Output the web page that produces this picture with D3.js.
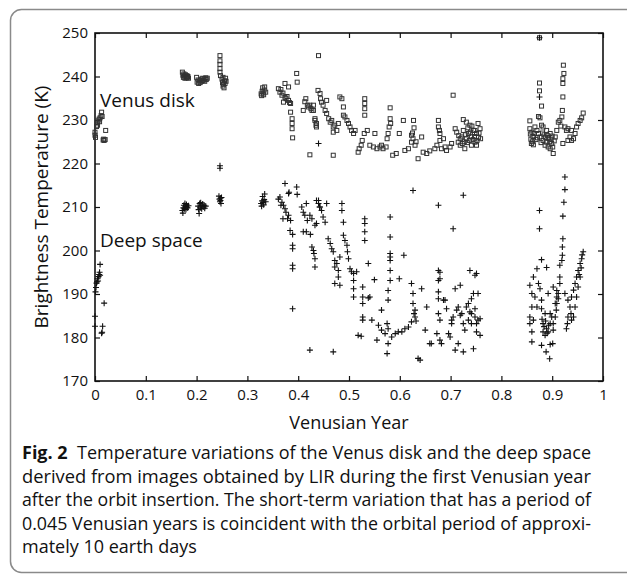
<!DOCTYPE html>
<html>
<head>
<meta charset="utf-8">
<script src="https://cdn.jsdelivr.net/npm/d3@7"></script>
<style>
  body { margin: 0; background: #fff; }
  svg { display: block; }
  text { font-family: "Open Sans", "Noto Sans", sans-serif; fill: #111; }
</style>
</head>
<body>
<div id="chart"></div>
<script>
// Venus disk brightness temperature [Venusian year, K]
const venusDisk = [
  [0.000,226.5],[0.000,227.2],[0.001,226.0],[0.003,228.5],[0.004,229.3],[0.005,228.8],[0.006,229.8],[0.008,230.2],[0.009,229.6],
  [0.010,230.5],[0.012,231.0],[0.013,231.8],[0.014,230.8],[0.016,225.4],[0.017,225.6],[0.018,225.3],[0.020,225.5],[0.021,227.6],
  [0.172,241.0],[0.173,240.3],[0.174,239.8],[0.175,240.6],[0.176,240.1],[0.177,239.6],[0.178,240.4],[0.179,240.0],[0.180,239.7],
  [0.181,240.2],[0.182,239.8],[0.183,240.0],[0.184,239.6],
  [0.200,239.8],[0.201,238.7],[0.203,239.2],[0.204,238.4],[0.206,239.0],[0.207,238.6],[0.209,239.4],[0.210,238.9],[0.212,239.6],
  [0.213,239.1],[0.215,239.5],[0.216,238.9],[0.218,239.7],[0.219,239.3],[0.221,239.6],
  [0.246,244.8],[0.246,243.6],[0.246,242.8],[0.246,241.8],[0.246,241.0],[0.247,240.2],[0.250,239.4],[0.251,238.6],[0.252,237.8],
  [0.252,239.8],[0.253,238.2],[0.254,237.4],[0.255,239.0],[0.256,238.4],[0.257,239.6],[0.258,238.9],
  [0.327,236.0],[0.328,235.6],[0.329,236.6],[0.330,237.4],[0.331,236.2],[0.332,235.8],[0.333,236.9],[0.334,237.6],[0.336,236.4],
  [0.361,237.2],[0.364,236.4],[0.366,237.0],[0.368,235.7],[0.370,236.2],[0.371,234.1],[0.374,238.4],[0.374,235.2],[0.376,234.9],
  [0.378,235.4],[0.381,237.6],[0.381,234.5],[0.383,234.0],[0.385,233.8],[0.385,231.8],[0.388,230.3],[0.388,229.2],[0.388,228.0],
  [0.389,225.9],[0.397,240.7],[0.398,238.7],[0.410,232.2],[0.413,234.2],[0.415,234.9],[0.418,233.4],[0.420,233.0],[0.423,233.4],
  [0.423,222.0],[0.425,232.6],[0.427,232.2],[0.430,233.4],[0.430,232.2],[0.433,230.3],[0.433,229.9],[0.435,228.8],[0.436,228.4],
  [0.436,229.2],[0.439,236.8],[0.440,244.8],[0.443,236.1],[0.444,234.9],[0.446,234.1],[0.449,233.4],[0.453,232.2],[0.456,231.5],
  [0.456,234.5],[0.460,230.3],[0.463,229.5],[0.466,229.9],[0.469,228.4],[0.469,227.2],[0.469,221.9],[0.472,228.8],[0.476,227.6],
  [0.479,229.2],[0.482,235.3],[0.486,234.9],[0.489,233.0],[0.489,231.1],[0.492,230.7],[0.496,229.9],[0.499,229.2],[0.502,228.4],
  [0.505,227.6],[0.509,226.9],[0.512,227.6],[0.518,222.6],[0.520,223.4],[0.524,224.2],[0.526,225.3],[0.530,226.9],[0.531,234.9],
  [0.531,233.8],[0.531,232.6],[0.531,231.1],[0.536,227.6],[0.541,224.2],[0.548,223.8],[0.551,226.9],[0.555,223.4],[0.561,223.8],
  [0.564,224.2],[0.567,223.4],[0.573,223.8],[0.575,225.7],[0.577,226.9],[0.579,228.4],[0.581,230.3],[0.581,232.8],[0.582,229.2],
  [0.586,221.9],[0.593,222.3],[0.599,226.9],[0.607,229.9],[0.610,223.0],[0.617,223.4],[0.623,224.9],[0.623,226.5],[0.626,225.7],
  [0.627,229.9],[0.628,228.2],[0.630,224.2],[0.625,227.0],[0.632,225.0],[0.636,221.1],[0.643,226.1],[0.646,222.6],[0.653,222.3],
  [0.659,222.9],[0.669,223.4],[0.673,224.2],[0.676,229.9],[0.676,228.4],[0.678,227.6],[0.679,226.9],[0.679,225.3],[0.682,223.4],
  [0.686,225.7],[0.689,223.8],[0.692,223.0],[0.699,223.8],[0.702,224.6],[0.705,235.7],[0.709,228.0],[0.712,227.2],[0.715,224.9],
  [0.719,225.7],[0.719,224.2],[0.722,226.1],[0.725,230.1],[0.725,227.6],[0.728,223.4],[0.731,229.5],[0.731,225.7],[0.735,226.9],
  [0.737,225.3],[0.738,228.8],[0.741,226.1],[0.741,224.2],[0.745,227.6],[0.748,224.9],[0.748,227.6],[0.751,226.9],[0.751,224.2],
  [0.754,229.2],[0.755,226.0],[0.758,228.0],[0.759,225.7],[0.733,224.8],[0.744,225.5],[0.727,225.0],[0.752,225.3],
  [0.716,226.4],[0.723,224.6],[0.729,226.6],[0.739,227.2],[0.747,226.2],[0.756,227.0],[0.734,228.2],[0.742,228.6],
  [0.856,229.8],[0.856,228.0],[0.857,226.8],[0.858,225.6],[0.859,224.6],[0.860,227.2],[0.861,225.0],[0.862,226.2],[0.863,224.3],
  [0.866,228.4],[0.870,227.6],[0.873,226.9],[0.873,230.8],[0.875,248.9],[0.875,238.5],[0.875,236.7],[0.876,230.5],[0.876,226.1],
  [0.879,233.2],[0.879,228.8],[0.882,228.4],[0.882,225.3],[0.884,226.6],[0.886,224.2],[0.889,227.6],[0.889,224.9],[0.892,223.8],
  [0.893,225.8],[0.896,226.9],[0.896,223.4],[0.899,224.6],[0.901,223.8],[0.902,222.3],[0.904,225.2],[0.906,226.1],[0.909,227.6],
  [0.912,229.5],[0.915,229.9],[0.917,228.6],[0.919,230.7],[0.920,232.2],[0.921,235.3],[0.921,238.4],[0.921,239.5],[0.921,224.6],
  [0.922,242.6],[0.923,240.7],[0.925,228.4],[0.928,227.6],[0.931,228.0],[0.931,225.3],[0.935,226.1],[0.938,227.6],[0.938,225.3],
  [0.942,225.7],[0.945,226.9],[0.948,228.4],[0.951,229.2],[0.955,229.9],[0.958,230.5],[0.961,231.6],[0.868,225.5],[0.878,224.8],
  [0.887,226.0],[0.895,225.0],[0.900,226.3],[0.864,226.9],[0.871,225.9],[0.881,227.0],[0.891,226.4],[0.898,225.6]
];

// deep space brightness temperature [Venusian year, K]
const deepSpace = [
  [0.000,184.9],[0.000,182.6],[0.001,190.5],[0.002,191.5],[0.003,192.5],[0.004,192.8],[0.005,193.5],[0.006,193.0],[0.007,194.0],
  [0.008,194.5],[0.009,195.0],[0.010,194.3],[0.010,196.8],[0.014,181.2],[0.015,182.6],[0.013,181.0],[0.018,187.9],
  [0.172,209.2],[0.173,208.6],[0.174,209.8],[0.175,210.4],[0.176,209.6],[0.177,210.8],[0.178,210.1],[0.179,209.4],[0.180,210.6],
  [0.181,210.0],[0.182,209.8],[0.184,210.3],
  [0.203,210.2],[0.204,209.4],[0.205,208.5],[0.206,210.8],[0.207,209.8],[0.208,211.0],[0.209,210.3],[0.210,209.6],[0.212,210.7],
  [0.213,210.0],[0.215,210.4],[0.216,209.7],[0.218,210.2],
  [0.246,219.5],[0.246,218.9],[0.244,212.5],[0.245,211.8],[0.246,211.2],[0.247,212.0],[0.248,210.8],[0.247,211.5],[0.249,212.2],
  [0.327,210.8],[0.328,210.2],[0.329,211.4],[0.330,212.4],[0.331,211.0],[0.332,210.5],[0.333,211.7],[0.334,213.0],[0.336,211.2],
  [0.361,211.8],[0.364,212.3],[0.366,210.4],[0.368,211.1],[0.370,207.3],[0.371,210.4],[0.374,215.4],[0.374,209.6],[0.376,208.8],
  [0.379,207.3],[0.381,213.1],[0.381,208.1],[0.382,213.4],[0.384,204.6],[0.385,206.9],[0.389,203.7],[0.389,201.2],[0.389,200.4],
  [0.389,196.6],[0.389,195.8],[0.389,186.6],[0.397,214.6],[0.398,212.9],[0.407,210.0],[0.410,208.8],[0.410,204.3],[0.413,208.1],
  [0.416,210.8],[0.416,204.3],[0.418,206.9],[0.423,208.1],[0.423,177.1],[0.424,203.7],[0.427,207.3],[0.427,200.8],[0.430,200.0],
  [0.431,199.3],[0.433,198.1],[0.433,205.8],[0.433,196.2],[0.436,206.2],[0.436,211.5],[0.440,211.5],[0.440,210.8],[0.440,224.6],
  [0.442,210.0],[0.443,210.0],[0.446,209.2],[0.449,207.7],[0.453,206.5],[0.456,210.8],[0.459,202.7],[0.463,201.6],[0.466,200.4],
  [0.469,199.7],[0.469,176.7],[0.472,197.7],[0.472,196.2],[0.472,192.4],[0.476,197.0],[0.479,195.4],[0.479,193.9],[0.482,192.0],
  [0.482,198.5],[0.486,210.8],[0.486,209.2],[0.489,206.5],[0.489,203.5],[0.492,202.3],[0.496,201.2],[0.497,199.7],[0.499,198.1],
  [0.502,195.8],[0.505,195.1],[0.509,194.7],[0.509,193.1],[0.509,191.2],[0.509,189.3],[0.515,195.1],[0.518,180.5],[0.524,180.3],
  [0.527,191.6],[0.527,189.3],[0.527,187.8],[0.527,184.7],[0.527,184.0],[0.531,207.3],[0.531,206.2],[0.531,204.3],[0.531,202.3],
  [0.538,197.0],[0.538,189.1],[0.541,189.3],[0.545,184.0],[0.550,193.3],[0.555,179.4],[0.558,182.8],[0.564,186.3],[0.564,181.7],
  [0.571,180.9],[0.575,183.2],[0.575,176.3],[0.577,182.0],[0.577,178.6],[0.577,188.6],[0.577,190.8],[0.581,193.1],[0.581,195.4],
  [0.581,197.7],[0.581,198.5],[0.581,199.3],[0.581,203.1],[0.581,207.7],[0.584,180.1],[0.591,180.9],[0.597,181.3],[0.599,193.5],
  [0.604,181.3],[0.608,198.9],[0.610,182.0],[0.617,182.4],[0.623,183.6],[0.623,192.4],[0.626,190.1],[0.626,187.8],[0.626,213.8],
  [0.630,186.3],[0.630,184.7],[0.628,185.5],[0.632,183.8],[0.636,175.2],[0.640,174.8],[0.643,191.2],[0.650,181.7],[0.653,187.0],
  [0.659,178.6],[0.662,178.6],[0.673,180.9],[0.676,210.4],[0.676,195.4],[0.676,193.1],[0.676,190.5],[0.676,188.9],[0.676,185.5],
  [0.679,195.0],[0.679,193.5],[0.679,184.0],[0.679,179.4],[0.682,178.6],[0.686,188.6],[0.689,188.6],[0.692,186.6],[0.696,180.9],
  [0.699,180.1],[0.702,184.0],[0.702,183.2],[0.705,184.7],[0.705,205.0],[0.709,191.2],[0.709,177.1],[0.712,186.3],[0.715,187.0],
  [0.715,178.6],[0.719,192.0],[0.719,185.1],[0.722,185.5],[0.725,183.2],[0.725,176.7],[0.725,212.7],[0.728,181.7],[0.731,187.0],
  [0.735,187.8],[0.735,184.0],[0.738,185.9],[0.738,195.4],[0.741,188.9],[0.741,185.5],[0.741,183.2],[0.745,190.1],[0.745,177.4],
  [0.748,194.3],[0.748,186.6],[0.748,184.7],[0.751,194.7],[0.751,183.2],[0.751,181.3],[0.754,190.1],[0.754,184.0],[0.758,184.3],
  [0.758,180.5],
  [0.875,248.9],[0.875,235.3],[0.925,216.9],[0.925,214.0],[0.923,211.1],[0.921,207.9],[0.875,209.2],[0.875,205.0],[0.921,202.7],
  [0.920,200.8],[0.920,198.9],[0.919,197.7],[0.915,196.6],[0.915,193.9],[0.912,190.1],[0.909,189.3],[0.909,187.8],[0.908,186.3],
  [0.906,184.7],[0.902,183.2],[0.902,181.7],[0.901,178.6],[0.896,178.4],[0.895,175.1],[0.888,176.7],[0.879,178.2],[0.860,179.0],
  [0.879,197.9],[0.889,196.1],[0.870,195.8],[0.863,193.9],[0.873,192.4],[0.876,191.2],[0.856,192.0],[0.860,190.1],[0.866,189.3],
  [0.879,188.6],[0.892,190.1],[0.902,191.6],[0.860,187.0],[0.870,187.0],[0.879,186.6],[0.886,185.5],[0.896,185.5],[0.856,184.7],
  [0.863,184.0],[0.882,183.2],[0.889,182.0],[0.856,183.2],[0.860,181.3],[0.882,181.3],[0.886,180.5],[0.892,181.3],[0.896,183.2],
  [0.899,184.7],[0.906,187.8],[0.925,190.1],[0.931,188.6],[0.935,187.0],[0.931,184.7],[0.930,183.2],[0.928,182.0],[0.938,189.3],
  [0.942,190.9],[0.945,192.4],[0.948,193.9],[0.951,195.4],[0.955,197.0],[0.958,198.1],[0.961,199.7],[0.942,184.7],[0.937,185.5],
  [0.938,184.0],[0.945,187.0],[0.948,189.3],[0.951,191.6],[0.955,193.9],[0.915,192.4],[0.912,188.9],[0.909,190.8],[0.884,182.5],
  [0.887,183.8],[0.890,181.0],[0.893,182.8],[0.880,184.2],[0.957,196.0],[0.953,194.5],[0.959,199.0]
];

const xTicks = [0, 0.1, 0.2, 0.3, 0.4, 0.5, 0.6, 0.7, 0.8, 0.9, 1];
const yTicks = [170, 180, 190, 200, 210, 220, 230, 240, 250];

const captionLines = [
  "Temperature variations of the Venus disk and the deep space",
  "derived from images obtained by LIR during the first Venusian year",
  "after the orbit insertion. The short-term variation that has a period of",
  "0.045 Venusian years is coincident with the orbital period of approxi-",
  "mately 10 earth days"
];

const W = 627, H = 576;
const margin = { top: 33, right: 24, bottom: 195, left: 95 };
const width = W - margin.left - margin.right;
const height = H - margin.top - margin.bottom;

const svg = d3.select('#chart').append('svg')
  .attr('width', W)
  .attr('height', H);

// rounded figure frame (right/bottom run off the page)
svg.append('rect')
  .attr('x', 10.5).attr('y', 9.5)
  .attr('width', 700).attr('height', 563)
  .attr('rx', 11)
  .attr('fill', 'none')
  .attr('stroke', '#8a8a8a')
  .attr('stroke-width', 1.5);

const chart = svg.append('g')
  .attr('transform', `translate(${margin.left},${margin.top})`);

const x = d3.scaleLinear().domain([0, 1]).range([0, width]);
const y = d3.scaleLinear().domain([170, 250]).range([height, 0]);

// inward ticks on all four sides
const fmtX = d => d === 0 || d === 1 ? String(d) : d3.format('.1f')(d);
chart.append('g')
  .attr('transform', `translate(0,${height})`)
  .call(d3.axisBottom(x).tickValues(xTicks).tickFormat(fmtX).tickSizeInner(-5).tickSizeOuter(0).tickPadding(8))
  .call(g => g.select('.domain').remove());
chart.append('g')
  .call(d3.axisTop(x).tickValues(xTicks).tickFormat('').tickSizeInner(-5).tickSizeOuter(0))
  .call(g => g.select('.domain').remove());
chart.append('g')
  .call(d3.axisLeft(y).tickValues(yTicks).tickFormat(d3.format('d')).tickSizeInner(-5).tickSizeOuter(0).tickPadding(7))
  .call(g => g.select('.domain').remove());
chart.append('g')
  .attr('transform', `translate(${width},0)`)
  .call(d3.axisRight(y).tickValues(yTicks).tickFormat('').tickSizeInner(-5).tickSizeOuter(0))
  .call(g => g.select('.domain').remove());

chart.selectAll('.tick line').attr('stroke', '#111').attr('stroke-width', 1.2);
chart.selectAll('.tick text')
  .attr('font-size', 15)
  .attr('font-family', '"Open Sans", sans-serif')
  .attr('fill', '#111');

chart.append('rect')
  .attr('width', width).attr('height', height)
  .attr('fill', 'none')
  .attr('stroke', '#111')
  .attr('stroke-width', 1.6);

// markers
chart.append('g').selectAll('rect')
  .data(venusDisk)
  .join('rect')
  .attr('x', d => x(d[0]) - 2)
  .attr('y', d => y(d[1]) - 2)
  .attr('width', 4).attr('height', 4)
  .attr('fill', 'none')
  .attr('stroke', '#333')
  .attr('stroke-width', 1);

chart.append('g').selectAll('path')
  .data(deepSpace)
  .join('path')
  .attr('d', d => `M${x(d[0]) - 3},${y(d[1])}h6M${x(d[0])},${y(d[1]) - 3}v6`)
  .attr('stroke', '#111')
  .attr('stroke-width', 1.1)
  .attr('fill', 'none');

// in-plot labels
chart.append('text')
  .attr('x', 5).attr('y', 74)
  .attr('font-size', 19)
  .text('Venus disk');
chart.append('text')
  .attr('x', 5).attr('y', 214)
  .attr('font-size', 19)
  .text('Deep space');

// axis titles
svg.append('text')
  .attr('transform', `translate(48,${margin.top + height / 2}) rotate(-90)`)
  .attr('text-anchor', 'middle')
  .attr('font-size', 19)
  .text('Brightness Temperature (K)');
svg.append('text')
  .attr('x', margin.left + width / 2)
  .attr('y', 429)
  .attr('text-anchor', 'middle')
  .attr('font-size', 18)
  .text('Venusian Year');

// caption
const cap = svg.append('g').attr('font-size', 18);
captionLines.forEach((line, i) => {
  const t = cap.append('text')
    .attr('x', 22)
    .attr('y', 459 + i * 23.5);
  if (i === 0) {
    t.append('tspan').attr('font-weight', 'bold').text('Fig. 2');
    t.append('tspan').text('\u00a0 ' + line);
  } else {
    t.text(line);
  }
  if (i < captionLines.length - 1) {
    t.attr('textLength', 569).attr('lengthAdjust', 'spacingAndGlyphs');
  }
});
</script>
</body>
</html>
